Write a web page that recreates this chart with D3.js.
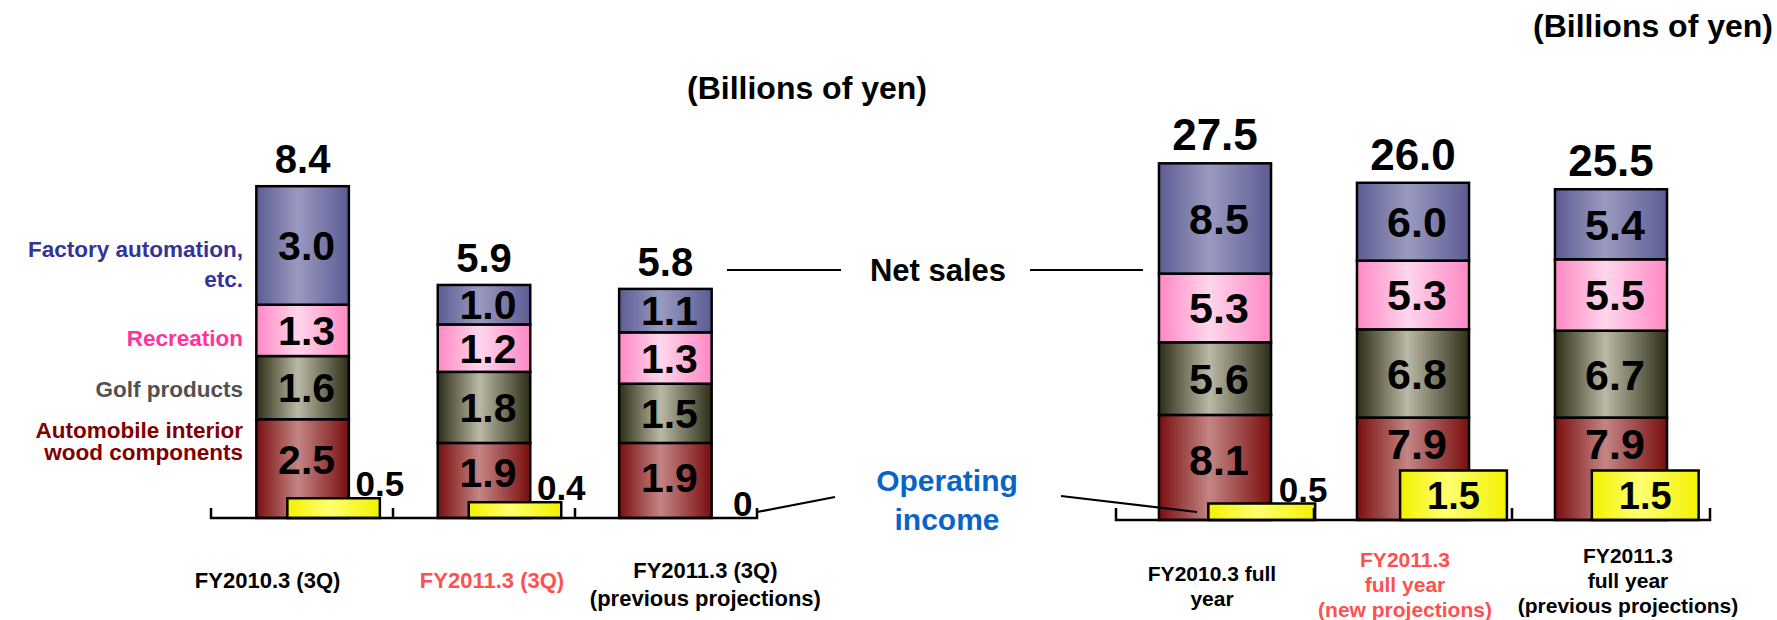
<!DOCTYPE html>
<html>
<head>
<meta charset="utf-8">
<script src="https://cdn.jsdelivr.net/npm/d3@7"></script>
<style>
body { margin: 0; background: #fff; }
svg text { font-family: Arial, "Liberation Sans", sans-serif; font-weight: bold; }
</style>
</head>
<body>
<svg id="chart" width="1777" height="620"></svg>
<script>
//------------------- data ------------------
var segmentKeys = ["auto", "golf", "recreation", "factory"];
var segmentNames = [["Automobile interior", "wood components"], ["Golf products"], ["Recreation"], ["Factory automation,", "etc."]];
var segmentColors = ["#800000", "#505050", "#ff3399", "#333399"];

// 3Q (cumulative) results
var quarterCats = ["FY2010.3 (3Q)", "FY2011.3 (3Q)", "FY2011.3 (3Q) prev"];
var quarterLabels = [["FY2010.3 (3Q)"], ["FY2011.3 (3Q)"], ["FY2011.3 (3Q)", "(previous projections)"]];
var quarterLabelColors = ["#000", "#ff5050", "#000"];
var quarterAuto = [2.5, 1.9, 1.9];
var quarterGolf = [1.6, 1.8, 1.5];
var quarterRecreation = [1.3, 1.2, 1.3];
var quarterFactory = [3.0, 1.0, 1.1];
var quarterTotals = [8.4, 5.9, 5.8];
var quarterIncome = [0.5, 0.4, 0];

// full year
var yearCats = ["FY2010.3 full year", "FY2011.3 new", "FY2011.3 prev"];
var yearLabels = [["FY2010.3 full", "year"], ["FY2011.3", "full year", "(new projections)"], ["FY2011.3", "full year", "(previous projections)"]];
var yearLabelColors = ["#000", "#ff5050", "#000"];
var yearAuto = [8.1, 7.9, 7.9];
var yearGolf = [5.6, 6.8, 6.7];
var yearRecreation = [5.3, 5.3, 5.5];
var yearFactory = [8.5, 6.0, 5.4];
var yearTotals = [27.5, 26.0, 25.5];
var yearIncome = [0.5, 1.5, 1.5];

//------------------- setup ------------------
var svg = d3.select("#chart");
var defs = svg.append("defs");

// cylinder-like shading: dark edges, light middle
var shades = {
  auto:       ["#7a0e0e", "#c48585", "#7a0e0e"],
  golf:       ["#2e2e18", "#b9b9a5", "#2e2e18"],
  recreation: ["#ff88c4", "#ffd6ec", "#ff88c4"],
  factory:    ["#5c5c94", "#9a9ac0", "#5c5c94"],
  income:     ["#f2f200", "#ffff70", "#f2f200"]
};
Object.keys(shades).forEach(function(k) {
  var g = defs.append("linearGradient").attr("id", "grad-" + k)
      .attr("x1", 0).attr("x2", 1).attr("y1", 0).attr("y2", 0);
  g.append("stop").attr("offset", "0%").attr("stop-color", shades[k][0]);
  g.append("stop").attr("offset", "45%").attr("stop-color", shades[k][1]);
  g.append("stop").attr("offset", "100%").attr("stop-color", shades[k][2]);
});

function makeRows(cats, a, g, r, f, inc) {
  return cats.map(function(c, i) {
    return { cat: c, auto: a[i], golf: g[i], recreation: r[i], factory: f[i], income: inc[i] };
  });
}

function drawPanel(p) {
  var x = d3.scaleBand().domain(p.cats).range(p.xRange).paddingInner(p.padIn).paddingOuter(p.padOut);
  var xi = d3.scaleBand().domain(p.cats).range(p.incomeRange).paddingInner(p.incPadIn).paddingOuter(p.incPadOut);
  var y = d3.scaleLinear().domain([0, 10]).range([p.base, p.base - p.unit * 10]);
  var yi = d3.scaleLinear().domain([0, 1]).range([p.base, p.base - p.incomeUnit]);
  var series = d3.stack().keys(segmentKeys)(p.rows);
  var g = svg.append("g");

  // stacked net sales bars
  series.forEach(function(s) {
    g.selectAll(null).data(s).enter().append("rect")
      .attr("x", function(d) { return x(d.data.cat); })
      .attr("y", function(d) { return y(d[1]); })
      .attr("width", x.bandwidth())
      .attr("height", function(d) { return y(d[0]) - y(d[1]); })
      .attr("fill", "url(#grad-" + s.key + ")")
      .attr("stroke", "#000").attr("stroke-width", 2.5);
  });

  // segment value labels (bottom one kept clear of the income bar)
  series.forEach(function(s, k) {
    g.selectAll(null).data(s).enter().append("text")
      .attr("x", function(d) { return x(d.data.cat) + x.bandwidth() / 2 + 4; })
      .attr("y", function(d) {
        var lo = y(d[0]);
        if (k === 0 && d.data.income > 0) lo = Math.min(lo, yi(d.data.income) + 6);
        return (lo + y(d[1])) / 2 - (k === 0 ? 3 : 0);
      })
      .attr("dy", "0.36em")
      .attr("text-anchor", "middle")
      .attr("font-size", p.segFont)
      .text(function(d) { return d3.format(".1f")(d[1] - d[0]); });
  });

  // totals
  g.selectAll(null).data(p.rows).enter().append("text")
    .attr("x", function(d) { return x(d.cat) + x.bandwidth() / 2; })
    .attr("y", function(d, i) { return y(p.totals[i]) - 13; })
    .attr("text-anchor", "middle")
    .attr("font-size", p.totalFont)
    .text(function(d, i) { return d3.format(".1f")(p.totals[i]); });

  // operating income bars
  g.selectAll(null).data(p.rows.filter(function(d) { return d.income > 0; })).enter().append("rect")
    .attr("x", function(d) { return xi(d.cat); })
    .attr("y", function(d) { return yi(d.income); })
    .attr("width", xi.bandwidth())
    .attr("height", function(d) { return yi(0) - yi(d.income); })
    .attr("fill", "url(#grad-income)")
    .attr("stroke", "#000").attr("stroke-width", 2.5);

  g.selectAll(null).data(p.rows).enter().append("text")
    .attr("x", function(d) {
      return d.income >= 1 ? xi(d.cat) + xi.bandwidth() / 2 : xi(d.cat) + xi.bandwidth() - p.smallShift;
    })
    .attr("y", function(d) { return d.income >= 1 ? (yi(0) + yi(d.income)) / 2 : yi(d.income) - 2; })
    .attr("dy", function(d) { return d.income >= 1 ? "0.36em" : 0; })
    .attr("text-anchor", "middle")
    .attr("font-size", function(d) { return d.income >= 1 ? 38 : 35; })
    .text(function(d) { return d.income === 0 ? "0" : d3.format(".1f")(d.income); });

  // base axis with upward ticks
  var r = x.range(), step = (r[1] - r[0]) / p.cats.length;
  var axisPath = "M" + r[0] + "," + (p.base - p.tick) + "V" + p.base + "H" + r[1] + "V" + (p.base - p.tick);
  d3.range(1, p.cats.length).forEach(function(i) {
    axisPath += "M" + (r[0] + step * i) + "," + p.base + "V" + (p.base - p.tick);
  });
  g.append("path").attr("d", axisPath).attr("fill", "none").attr("stroke", "#000").attr("stroke-width", 2.5);

  // category labels
  p.labels.forEach(function(lines, i) {
    var cx = x(p.cats[i]) + x.bandwidth() / 2 + p.labelShift[i];
    var first = p.labelMid[i] - (lines.length - 1) * p.labelLine / 2;
    var t = g.append("text").attr("text-anchor", "middle").attr("font-size", p.labelFont)
      .attr("fill", p.labelColors[i]);
    lines.forEach(function(line, j) {
      t.append("tspan").attr("x", cx).attr("y", first + j * p.labelLine).text(line);
    });
  });
}

drawPanel({
  cats: quarterCats, labels: quarterLabels, labelColors: quarterLabelColors,
  rows: makeRows(quarterCats, quarterAuto, quarterGolf, quarterRecreation, quarterFactory, quarterIncome),
  totals: quarterTotals,
  xRange: [211, 757], padIn: 0.49, padOut: 0.25,
  incomeRange: [242, 788], incPadIn: 0.49, incPadOut: 0.25,
  base: 518, unit: 39.5, incomeUnit: 39.5, tick: 10, smallShift: 0,
  segFont: 41, totalFont: 40,
  labelShift: [-35, 8, 40], labelMid: [588, 588, 592], labelLine: 28, labelFont: 22
});

drawPanel({
  cats: yearCats, labels: yearLabels, labelColors: yearLabelColors,
  rows: makeRows(yearCats, yearAuto, yearGolf, yearRecreation, yearFactory, yearIncome),
  totals: yearTotals,
  xRange: [1116, 1710], padIn: 0.434, padOut: 0.217,
  incomeRange: [1170, 1737], incPadIn: 0.443, incPadOut: 0.2,
  base: 520, unit: 12.97, incomeUnit: 33, tick: 12, smallShift: 12,
  segFont: 43, totalFont: 44,
  labelShift: [-3, -8, 17], labelMid: [593, 592, 588], labelLine: 25, labelFont: 21
});

//------------------- annotations ------------------
// segment legend (left side)
var legendY = [[438, 460], [397], [346], [257, 287]];
segmentNames.forEach(function(lines, i) {
  var t = svg.append("text").attr("text-anchor", "end").attr("font-size", 22.5).attr("fill", segmentColors[i]);
  lines.forEach(function(line, j) {
    t.append("tspan").attr("x", 243).attr("y", legendY[i][j]).text(line);
  });
});

svg.append("text").attr("x", 807).attr("y", 99).attr("text-anchor", "middle").attr("font-size", 32).text("(Billions of yen)");
svg.append("text").attr("x", 1773).attr("y", 37).attr("text-anchor", "end").attr("font-size", 32).text("(Billions of yen)");

svg.append("text").attr("x", 938).attr("y", 281).attr("text-anchor", "middle").attr("font-size", 31).text("Net sales");
var oi = svg.append("text").attr("text-anchor", "middle").attr("font-size", 30).attr("fill", "#0a64c8");
oi.append("tspan").attr("x", 947).attr("y", 491).text("Operating");
oi.append("tspan").attr("x", 947).attr("y", 530).text("income");

var leaders = [[[727, 270], [841, 270]], [[1030, 270], [1143, 270]], [[757, 512], [835, 497]], [[1061, 496], [1197, 512]]];
svg.selectAll(null).data(leaders).enter().append("path")
  .attr("d", d3.line())
  .attr("stroke", "#000").attr("stroke-width", 2.2).attr("fill", "none");
</script>
</body>
</html>
